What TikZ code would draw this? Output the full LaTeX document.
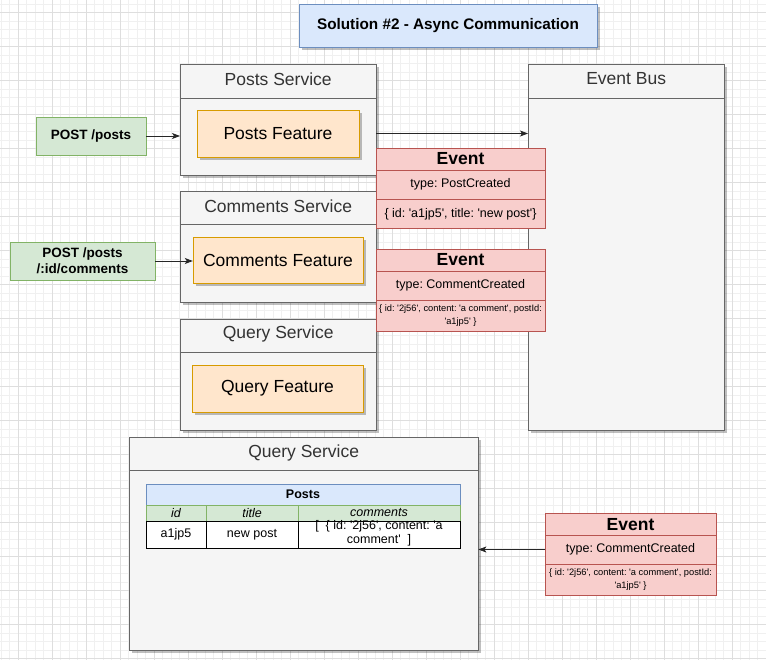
\documentclass[tikz,border=0pt]{standalone}
\usepackage{fontspec}
\setmainfont{Liberation Sans}[Ligatures=TeXOff]
\usetikzlibrary{shadows, arrows.meta}
\frenchspacing

\definecolor{svcfill}{HTML}{F5F5F5}
\definecolor{svcdraw}{HTML}{666666}
\definecolor{svctext}{HTML}{333333}
\definecolor{featfill}{HTML}{FFE6CC}
\definecolor{featdraw}{HTML}{D79B00}
\definecolor{reqfill}{HTML}{D5E8D4}
\definecolor{reqdraw}{HTML}{82B366}
\definecolor{evfill}{HTML}{F8CECC}
\definecolor{evdraw}{HTML}{B85450}
\definecolor{headfill}{HTML}{DAE8FC}
\definecolor{headdraw}{HTML}{6C8EBF}

\begin{document}
\begin{tikzpicture}[
    x=1pt, y=-1pt,
    every node/.style={inner sep=0pt},
    shadowed/.style={drop shadow={shadow xshift=3pt, shadow yshift=-3pt, opacity=0.25, fill=black}},
    minorgrid/.style={draw=black!6, line width=0.8pt},
    majorgrid/.style={draw=black!13, line width=0.8pt},
    svc/.style={draw=svcdraw, fill=svcfill, anchor=north west, minimum width=196, minimum height=111, shadowed},
    svchead/.style={text=svctext, font=\fontsize{17.5}{21}\selectfont},
    feat/.style={draw=featdraw, fill=featfill, minimum width=162, minimum height=47, shadowed, font=\fontsize{17.5}{21}\selectfont},
    req/.style={draw=reqdraw, fill=reqfill, minimum height=38, align=center, font=\fontsize{13.5}{16}\selectfont\bfseries},
    evtitle/.style={draw=evdraw, fill=evfill, minimum width=169, minimum height=22, font=\fontsize{17.5}{20}\selectfont\bfseries},
    evrow/.style={draw=evdraw, fill=evfill, minimum width=169, minimum height=29, font=\fontsize{12.5}{15}\selectfont},
    evsmall/.style={draw=evdraw, fill=evfill, minimum width=169, minimum height=31, align=center, font=\fontsize{9.3}{13}\selectfont},
    cell/.style={draw=black, fill=white, minimum height=27, font=\fontsize{12.5}{15}\selectfont},
    colhead/.style={draw=reqdraw, fill=reqfill, minimum height=16, font=\fontsize{12.5}{15}\selectfont\itshape},
    arrow/.style={-{Stealth[length=8pt, width=6pt, inset=2pt]}, line width=0.8pt, draw=black!85},
]
\useasboundingbox (0,0) rectangle (766,660);

% Grid
\foreach \i in {0,...,89} \draw[minorgrid] (1.3+8.5*\i, 0) -- (1.3+8.5*\i, 660);
\foreach \i in {0,...,77} \draw[minorgrid] (0, 4.2+8.5*\i) -- (766, 4.2+8.5*\i);
\foreach \i in {0,...,22} \draw[majorgrid] (18.3+34*\i, 0) -- (18.3+34*\i, 660);
\foreach \i in {0,...,19} \draw[majorgrid] (0, 12.7+34*\i) -- (766, 12.7+34*\i);

% Title
\node[draw=headdraw, fill=headfill, minimum width=298, minimum height=43, shadowed,
      font=\fontsize{15.3}{18}\selectfont\bfseries] (title) at (448, 25.5) {Solution \#2 - Async Communication};

% Services
\node[svc] (posts) at (180, 64) {};
\node[svchead] (postsHead) at ([yshift=-15]posts.north) {Posts Service};
\draw[svcdraw] ([yshift=-34]posts.north west) -- ([yshift=-34]posts.north east);
\node[feat] (postsFeat) at (278, 133.5) {Posts Feature};

\node[svc] (comments) at (180, 191) {};
\node[svchead] (commentsHead) at ([yshift=-15]comments.north) {Comments Service};
\draw[svcdraw] ([yshift=-33]comments.north west) -- ([yshift=-33]comments.north east);
\node[feat, minimum width=170, minimum height=46] (commentsFeat) at (278, 260) {Comments Feature};

\node[svc] (query) at (180, 319) {};
\node[svchead] (queryHead) at ([yshift=-15]query.north) {Query Service};
\draw[svcdraw] ([yshift=-33]query.north west) -- ([yshift=-33]query.north east);
\node[feat, minimum width=171] (queryFeat) at (277.5, 388.5) {Query Feature};

% Event bus
\node[svc, minimum height=366] (bus) at (528, 64) {};
\node[svchead] (busHead) at ([yshift=-15]bus.north) {Event Bus};
\draw[svcdraw] ([yshift=-34]bus.north west) -- ([yshift=-34]bus.north east);

% Requests
\node[req, minimum width=110] (postReq) at (91, 136) {POST /posts};
\node[req, minimum width=145] (commentReq) at (82.5, 261) {POST /posts\\/:id/comments};

\draw[arrow] (postReq.east) -- (postReq.east -| posts.west);
\draw[arrow] (commentReq.east) -- (commentReq.east -| commentsFeat.west);
\draw[arrow] (postsFeat.east -| posts.east) -- (postsFeat.east -| bus.west);

% Events
\node[evtitle] (ev1) at (460.5, 159) {Event};
\node[evrow] (ev1Type) at (460.5, 184.5) {type: PostCreated};
\node[evrow] (ev1Data) at (460.5, 214) {\{ id: 'a1jp5', title: 'new post'\}};

\node[evtitle] (ev2) at (460.5, 260) {Event};
\node[evrow] (ev2Type) at (460.5, 285.5) {type: CommentCreated};
\node[evsmall] (ev2Data) at (460.5, 315.5) {\{ id: '2j56', content: 'a comment', postId:\\'a1jp5' \}};

% Query service (detail)
\node[svc, minimum width=349, minimum height=213] (querySvc) at (129, 437) {};
\node[svchead] (querySvcHead) at ([yshift=-16]querySvc.north) {Query Service};
\draw[svcdraw] ([yshift=-33]querySvc.north west) -- ([yshift=-33]querySvc.north east);

% Posts table
\node[draw=headdraw, fill=headfill, minimum width=314, minimum height=21,
      font=\fontsize{12.5}{15}\selectfont\bfseries] (tbl) at (303, 494.5) {Posts};
\node[colhead, minimum width=60] (colId) at (176, 513) {id};
\node[colhead, minimum width=92] (colTitle) at (252, 513) {title};
\node[colhead, minimum width=162] (colComments) at (379, 513) {comments};
\node[cell, minimum width=60] (rowId) at (176, 534.5) {a1jp5};
\node[cell, minimum width=92] (rowTitle) at (252, 534.5) {new post};
\node[cell, minimum width=162] (rowComments) at (379, 534.5) {};
\node[align=center, font=\fontsize{12.5}{13.5}\selectfont] (rowCommentsText) at (379, 533.5) {[~~\{ id: '2j56', content: 'a\\comment'~~]};

% Incoming event
\node[evtitle, minimum width=171] (ev3) at (630.5, 524.5) {Event};
\node[evrow, minimum width=171] (ev3Type) at (630.5, 549.5) {type: CommentCreated};
\node[evsmall, minimum width=171] (ev3Data) at (630.5, 579.5) {\{ id: '2j56', content: 'a comment', postId:\\'a1jp5' \}};

\draw[arrow] (ev3Type.west) -- (ev3Type.west -| querySvc.east);

\end{tikzpicture}
\end{document}
